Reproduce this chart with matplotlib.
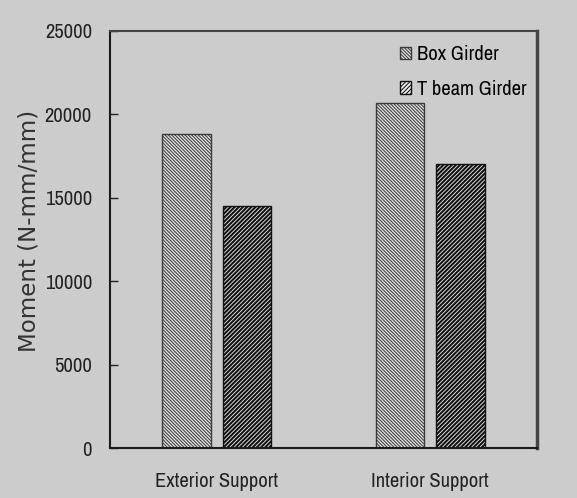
import matplotlib
matplotlib.use("Agg")
import matplotlib.pyplot as plt
from matplotlib import font_manager as fm
import numpy as np

categories = ["Exterior Support", "Interior Support"]
series_names = ["Box Girder", "T beam Girder"]
box_girder = [18850, 20700]
t_beam_girder = [14500, 17000]
yticks = [0, 5000, 10000, 15000, 20000, 25000]

available = {f.name for f in fm.fontManager.ttflist}
narrow_pref = ["Archivo Narrow", "Carlito", "Barlow Semi Condensed", "Liberation Sans Narrow"]
narrow = [n for n in narrow_pref if n in available][:1] + ["DejaVu Sans"]

plt.rcParams["hatch.linewidth"] = 0.75
bg = "#cccccc"
fs = 14.8

fig = plt.figure(figsize=(5.77, 4.98), dpi=100, facecolor=bg)
ax = fig.add_axes([110/577, 50/498, 427/577, 417/498], facecolor=bg)

x = np.arange(len(categories))
w = 0.227
off = 0.142
b1 = ax.bar(x - off, box_girder, w, facecolor="#e6e6e6", edgecolor="#3a3a3a",
            hatch="\\" * 10, linewidth=1.0, label=series_names[0])
b2 = ax.bar(x + off, t_beam_girder, w, facecolor="#f0f0f0", edgecolor="#111111",
            hatch="/" * 8, linewidth=1.0, label=series_names[1])
for p in b2:
    try:
        p.set_hatch_linewidth(1.5)
    except Exception:
        pass

ax.set_xlim(-0.5, 1.5)
ax.set_ylim(0, 25000)
ax.set_yticks(yticks)
ax.set_yticklabels([str(v) for v in yticks], family=narrow, fontsize=fs, color="#222222")
ax.set_xticks(x)
ax.set_xticklabels(categories, family=narrow, fontsize=fs, color="#222222")
ax.tick_params(axis="y", direction="in", length=6, width=1, pad=13, color="#222222")
ax.tick_params(axis="x", length=0, pad=17)
for s in ax.spines.values():
    s.set_linewidth(1.5)
    s.set_color("#1a1a1a")
ax.spines["right"].set_color("#444444")
ax.spines["right"].set_linewidth(2.5)
ax.spines["top"].set_color("#444444")

ax.set_ylabel("Moment (N-mm/mm)", family="DejaVu Sans", fontsize=16.5, color="#333333")
ax.yaxis.label.set_va("center")
ax.yaxis.set_label_coords(-81/427, 0.52)

leg = ax.legend(loc="upper right", bbox_to_anchor=(1.019, 1.010), frameon=False,
                prop={"family": narrow, "size": fs}, handlelength=0.55, handleheight=0.55,
                handletextpad=0.3, labelspacing=0.75)

fig.savefig("out.png", dpi=100, facecolor=bg)
